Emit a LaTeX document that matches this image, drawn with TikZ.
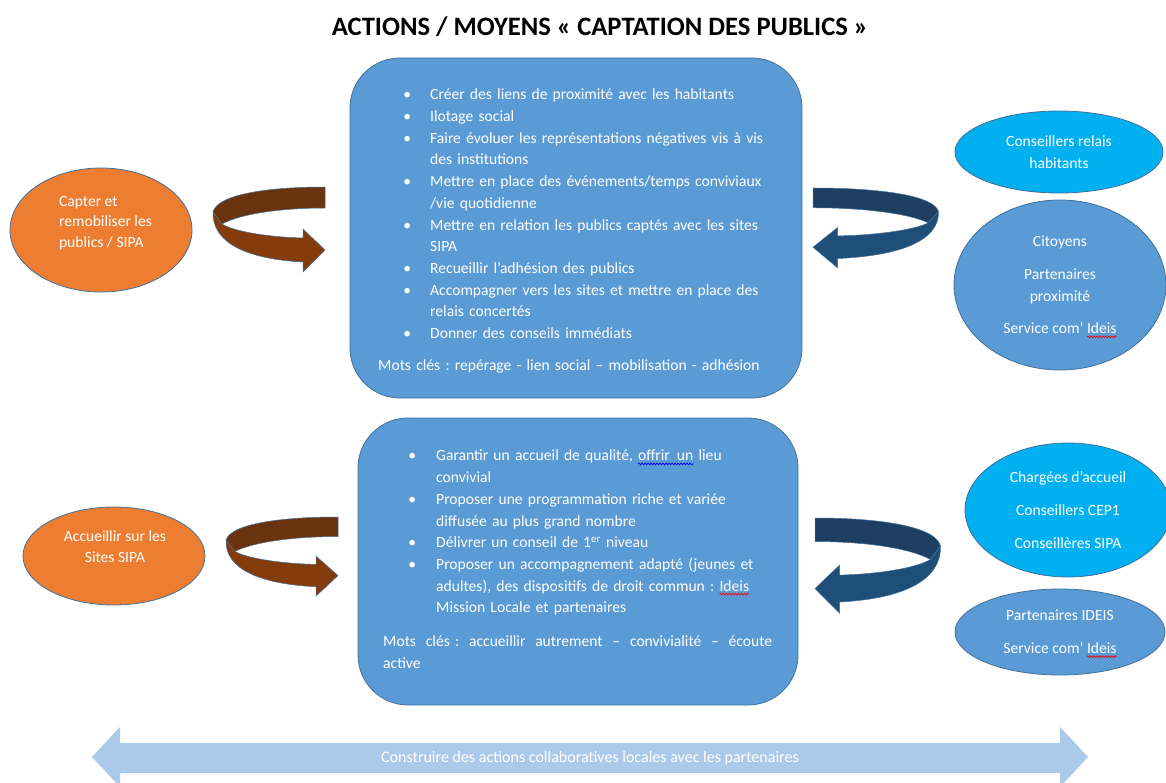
\documentclass[tikz,border=0pt]{standalone}
\usepackage{fontspec}
\setmainfont{Carlito}
\usetikzlibrary{shapes.geometric,decorations.pathmorphing}
\frenchspacing

\definecolor{boxblue}{HTML}{5B9BD5}
\definecolor{edgeblue}{HTML}{41719C}
\definecolor{orangefill}{HTML}{ED7D31}
\definecolor{cyanfill}{HTML}{00B0F0}
\definecolor{brownback}{HTML}{6A330F}
\definecolor{brownfront}{HTML}{843C0C}
\definecolor{navyback}{HTML}{1D3F61}
\definecolor{navyfront}{HTML}{1F4E79}
\definecolor{lightband}{HTML}{ABCAE9}

\newcommand\corps{\fontsize{15.6}{21.7}\selectfont}
% wavy underline under a word
\newcommand\vague[2]{\tikz[baseline=(w.base)]{\node[shape=rectangle,draw=none,fill=none,minimum width=0pt,minimum height=0pt,
    inner sep=0pt,outer sep=0pt,text width={},align=none,text=white] (w) {#2};
  \draw[overlay,#1,line width=0.7,decorate,decoration={snake,amplitude=0.9pt,segment length=3pt}] ([yshift=-3pt]w.base west) -- ([yshift=-3pt]w.base east);}}

\newenvironment{puces}[2]{\begin{list}{\textbullet}{\setlength\leftmargin{#1}\setlength\labelsep{#2}%
  \setlength\labelwidth{10pt}\setlength\itemsep{0pt}\setlength\parsep{0pt}%
  \setlength\topsep{0pt}\setlength\partopsep{0pt}}}{\end{list}}

\tikzset{
  cadre/.style={draw=edgeblue, line width=0.8, fill=boxblue, rounded corners=50, inner sep=0},
  liste/.style={anchor=north west, inner sep=0, text=white, font=\corps, text width=#1, align=left},
  ovale/.style={ellipse, draw=edgeblue, line width=0.8, inner sep=0},
  blanc/.style={text=white, font=\corps, inner sep=0},
  ribbonedge/.style={draw=edgeblue, line width=0.5},
  pics/ruban/.style 2 args={code={
    \draw[ribbonedge, fill=#1] (0,0) .. controls (-60,0) and (-108,8) .. (-112,25)
      -- (-103,37) .. controls (-85,27) and (-45,21) .. (0,21) -- cycle;
    \draw[ribbonedge, fill=#2] (-112,25) .. controls (-113,55) and (-80,72) .. (-22,75)
      -- (-22,85) -- (0,63) -- (-22,42) -- (-22,51)
      .. controls (-60,50) and (-92,44) .. (-103,37) -- cycle;
  }},
}

\begin{document}
\begin{tikzpicture}[x=1pt,y=-1pt]
\useasboundingbox (0,0) rectangle (1166,783);
\clip (0,0) rectangle (1166,783);
\fill[white] (0,0) rectangle (1166,783);

\node[font=\bfseries\fontsize{26.6}{30}\selectfont] (titre) at (600,27) {ACTIONS / MOYENS « CAPTATION DES PUBLICS »};

% left column
\node[ovale, fill=orangefill, minimum width=182, minimum height=124] (capter) at (101,230) {};
\node[blanc, align=left, font=\fontsize{15.6}{20.7}\selectfont] (capterlbl) at (105.5,223) {Capter et\\remobiliser les\\publics / SIPA};
\node[ovale, fill=orangefill, minimum width=182, minimum height=98] (accueil) at (114,556) {};
\node[blanc, align=center] (accueillbl) at (115,546.5) {Accueillir sur les\\Sites SIPA};

% central boxes
\node[cadre, minimum width=452, minimum height=340] (captbox) at (576,228) {};
\node[liste=420] (captlist) at (378,78) {%
\begin{puces}{52pt}{19pt}
\item Créer des liens de proximité avec les habitants
\item Ilotage social
\item Faire évoluer les représentations négatives vis à vis\newline des institutions
\item Mettre en place des événements/temps conviviaux\newline /vie quotidienne
\item Mettre en relation les publics captés avec les sites\newline SIPA
\item Recueillir l’adhésion des publics
\item Accompagner vers les sites et mettre en place des\newline relais concertés
\item Donner des conseils immédiats
\end{puces}
\vspace{10pt}
Mots clés : repérage - lien social – mobilisation - adhésion};

\node[cadre, minimum width=440, minimum height=287] (accbox) at (578,561.5) {};
\node[liste=400] (acclist) at (383,439) {%
\begin{puces}{53pt}{20pt}
\item Garantir un accueil de qualité, \vague{blue}{offrir\ \ un} lieu\newline convivial
\item Proposer une programmation riche et variée\newline diffusée au plus grand nombre
\item Délivrer un conseil de 1\textsuperscript{er} niveau
\item Proposer un accompagnement adapté (jeunes et\newline adultes), des dispositifs de droit commun : \vague{red}{Ideis}\newline Mission Locale et partenaires
\end{puces}
\vspace{12pt}
\leavevmode\hbox to 389pt{Mots\hfill clés~:\hfill accueillir\hfill autrement\hfill –\hfill convivialité\hfill –\hfill écoute}\par
active};

% curved arrows
\pic at (325,187) {ruban={brownback}{brownfront}};
\pic[yscale=0.93] at (338,517) {ruban={brownback}{brownfront}};
\pic[xscale=-1.12, yscale=0.94] at (813,188) {ruban={navyback}{navyfront}};
\pic[xscale=-1.12, yscale=1.12] at (815,518) {ruban={navyback}{navyfront}};

% right column
\node[ovale, fill=cyanfill, minimum width=208, minimum height=82, blanc, align=center] (relais) at (1059,152) {Conseillers relais\\habitants};
\node[ovale, fill=boxblue, minimum width=212, minimum height=170, blanc, align=center] (citoyens) at (1060,285)
  {Citoyens\\[11pt]Partenaires\\proximité\\[11pt]Service com’ \vague{red}{Ideis}};
\node[ovale, fill=cyanfill, minimum width=206, minimum height=134, blanc, align=center] (chargees) at (1068,510)
  {Chargées d’accueil\\[11pt]Conseillers CEP1\\[11pt]Conseillères SIPA};
\node[ovale, fill=boxblue, minimum width=210, minimum height=86, blanc, align=center] (partideis) at (1060,632)
  {Partenaires IDEIS\\[11pt]Service com’ \vague{red}{Ideis}};

% bottom band
\fill[lightband] (92,757) -- (120,727) -- (120,743) -- (1060,743) -- (1060,727) -- (1088,757)
  -- (1060,787) -- (1060,773) -- (120,773) -- (120,787) -- cycle;
\node[text=white, font=\fontsize{16}{18}\selectfont] (construire) at (590,758) {Construire des actions collaboratives locales avec les partenaires};
\end{tikzpicture}
\end{document}
